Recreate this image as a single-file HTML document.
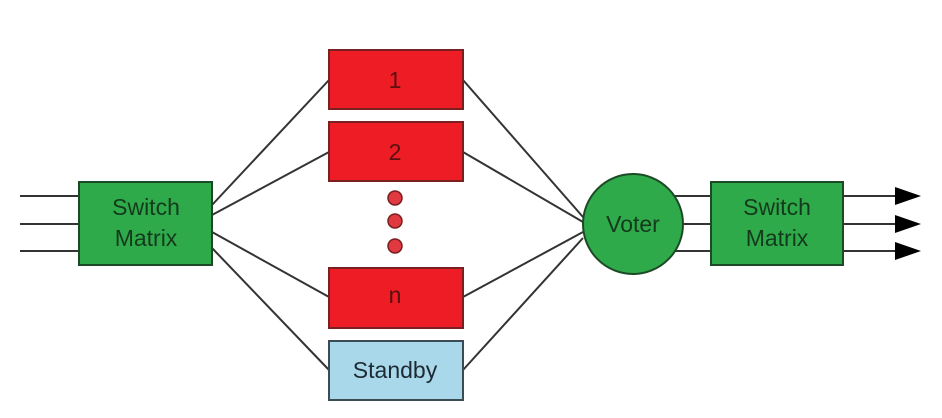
<!DOCTYPE html>
<html><head><style>
html,body{margin:0;padding:0;background:#fff;}
svg{display:block;}
text{font-family:"Liberation Sans",Arial,sans-serif;font-size:23px;text-anchor:middle;}
</style></head><body>
<svg width="942" height="418" viewBox="0 0 942 418" xmlns="http://www.w3.org/2000/svg">
<g stroke="#333" stroke-width="2" fill="none">
<line x1="20" y1="196" x2="80" y2="196"/>
<line x1="20" y1="224" x2="80" y2="224"/>
<line x1="20" y1="251" x2="80" y2="251"/>
<line x1="212" y1="205" x2="329" y2="80"/>
<line x1="212" y1="215" x2="329" y2="152"/>
<line x1="212" y1="232" x2="329" y2="297"/>
<line x1="212" y1="248" x2="329" y2="370"/>
<line x1="463" y1="80" x2="583" y2="217"/>
<line x1="463" y1="152" x2="583" y2="222"/>
<line x1="463" y1="297" x2="583" y2="232"/>
<line x1="463" y1="370" x2="583" y2="238"/>
<line x1="670" y1="196" x2="712" y2="196"/>
<line x1="680" y1="224" x2="712" y2="224"/>
<line x1="670" y1="251" x2="712" y2="251"/>
<line x1="843" y1="196" x2="898" y2="196"/>
<line x1="843" y1="224" x2="898" y2="224"/>
<line x1="843" y1="251" x2="898" y2="251"/>
</g>
<g fill="#000">
<polygon points="895,187 921,196 895,205"/>
<polygon points="895,215 921,224 895,233"/>
<polygon points="895,242 921,251 895,260"/>
</g>
<rect x="79" y="182" width="133" height="83" fill="#2eaa4a" stroke="#1d4a26" stroke-width="2"/>
<text x="146" y="215" fill="#143a1c">Switch</text>
<text x="146" y="246" fill="#143a1c">Matrix</text>
<rect x="711" y="182" width="132" height="83" fill="#2eaa4a" stroke="#1d4a26" stroke-width="2"/>
<text x="777" y="215" fill="#143a1c">Switch</text>
<text x="777" y="246" fill="#143a1c">Matrix</text>
<circle cx="633" cy="224" r="50" fill="#2eaa4a" stroke="#1d4a26" stroke-width="2"/>
<text x="633" y="232" fill="#143a1c">Voter</text>
<g fill="#ee1c25" stroke="#7a1f22" stroke-width="2">
<rect x="329" y="50" width="134" height="59"/>
<rect x="329" y="122" width="134" height="59"/>
<rect x="329" y="268" width="134" height="60"/>
</g>
<text x="395" y="88" fill="#5a1010">1</text>
<text x="395" y="160" fill="#5a1010">2</text>
<text x="395" y="303" fill="#5a1010">n</text>
<g fill="#e0393f" stroke="#7a1f22" stroke-width="1.5">
<circle cx="395" cy="198" r="7"/>
<circle cx="395" cy="221" r="7"/>
<circle cx="395" cy="246" r="7"/>
</g>
<rect x="329" y="341" width="134" height="59" fill="#a9d8ea" stroke="#3c4c55" stroke-width="2"/>
<text x="395" y="378" fill="#1c2a33">Standby</text>
</svg>
</body></html>
